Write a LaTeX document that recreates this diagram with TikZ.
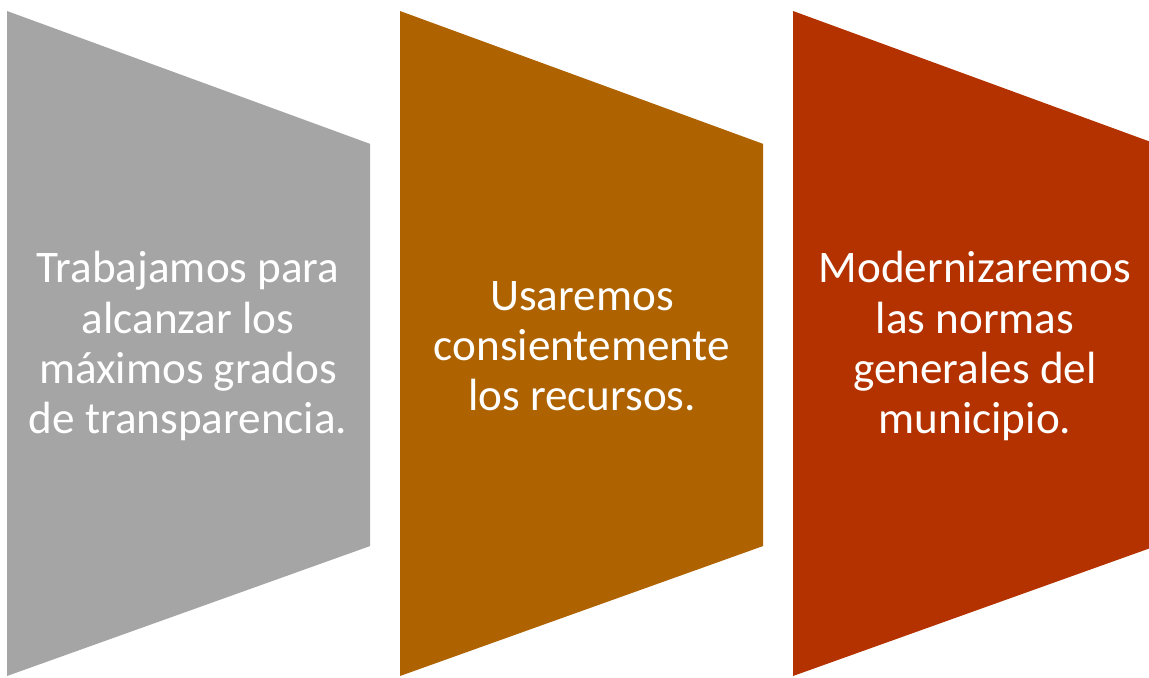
\documentclass[tikz,border=0pt]{standalone}
\usepackage{fontspec}
\setmainfont{Carlito}
\definecolor{panelgray}{RGB}{165,165,165}
\definecolor{panelbrown}{RGB}{174,99,0}
\definecolor{panelred}{RGB}{180,50,0}

\begin{document}
\begin{tikzpicture}[x=0.02cm,y=-0.02cm]
\useasboundingbox (0,0) rectangle (1149,677);
\tikzstyle{panel text}=[text=white,align=center,inner sep=0pt,font=\fontsize{25.7}{28.5}\selectfont];
\foreach \x/\w/\c in {7/363/panelgray, 400/363/panelbrown, 793/356/panelred}
    \fill[\c] (\x,11) -- (\x+\w,11+0.366*\w) -- (\x+\w,676-0.358*\w) -- (\x,676) -- cycle;
\node[panel text] (trabajamos) at (188,346) {Trabajamos para\\alcanzar los\\máximos grados\\de transparencia.};
\node[panel text] (usaremos) at (582,346) {Usaremos\\consientemente\\los recursos.};
\node[panel text] (modernizaremos) at (975,346) {Modernizaremos\\las normas\\generales del\\municipio.};
\end{tikzpicture}
\end{document}
